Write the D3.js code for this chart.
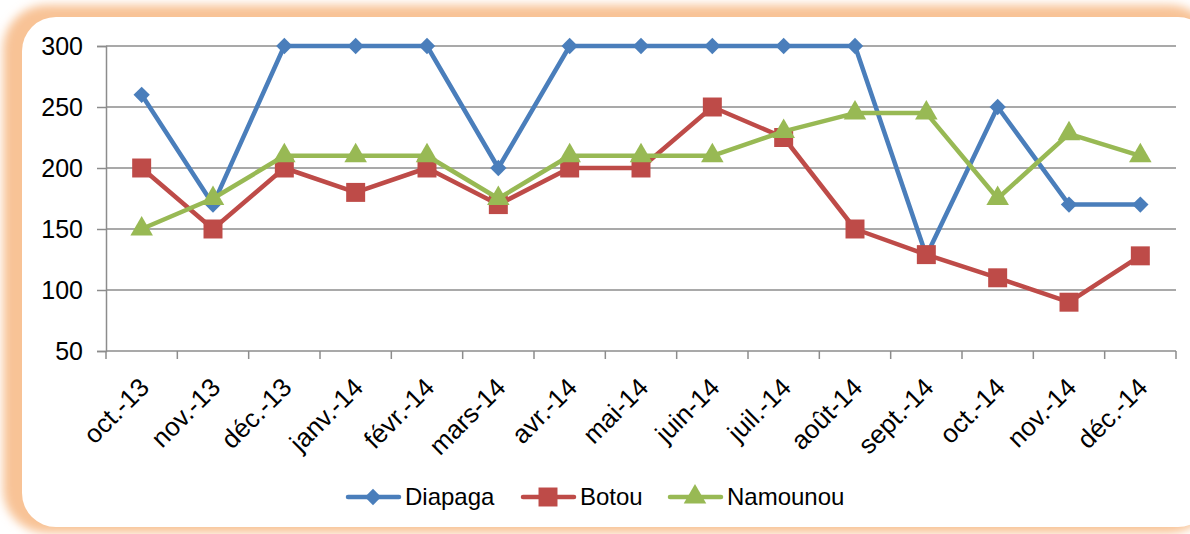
<!DOCTYPE html>
<html>
<head>
<meta charset="utf-8">
<script src="https://cdn.jsdelivr.net/npm/d3@7"></script>
<style>
  body { margin: 0; background: #fff; }
  svg { display: block; font-family: "Liberation Sans", Arial, sans-serif; }
</style>
</head>
<body>
<script>
// categories and values
const months = ['oct.-13', 'nov.-13', 'déc.-13', 'janv.-14', 'févr.-14', 'mars-14', 'avr.-14',
  'mai-14', 'juin-14', 'juil.-14', 'août-14', 'sept.-14', 'oct.-14', 'nov.-14', 'déc.-14'];
const diapaga = [260, 170, 300, 300, 300, 200, 300, 300, 300, 300, 300, 128, 250, 170, 170];
const botou = [200, 150, 200, 180, 200, 170, 200, 200, 250, 225, 150, 129, 110, 90, 128];
const namounou = [150, 175, 210, 210, 210, 175, 210, 210, 210, 230, 245, 245, 175, 228, 210];
const yTicks = [50, 100, 150, 200, 250, 300];

const series = [
  { name: 'Diapaga', values: diapaga, color: '#4a7ebb', symbol: d3.symbolDiamond2, size: 170 },
  { name: 'Botou', values: botou, color: '#be4b48', symbol: d3.symbolSquare, size: 360 },
  { name: 'Namounou', values: namounou, color: '#98b954', symbol: d3.symbolTriangle, size: 220 }
];

const width = 1190, height = 534;
const plot = { left: 106, right: 1176, top: 46, bottom: 351 };

const svg = d3.select('body').append('svg')
  .attr('width', width)
  .attr('height', height);

// orange glowing frame
const defs = svg.append('defs');
const blur = defs.append('filter').attr('id', 'glow')
  .attr('x', '-5%').attr('y', '-10%').attr('width', '110%').attr('height', '120%');
blur.append('feGaussianBlur').attr('stdDeviation', 5);

svg.append('rect')
  .attr('x', 3).attr('y', 5).attr('width', 1210).attr('height', 528)
  .attr('rx', 44)
  .attr('fill', '#f8c396')
  .attr('filter', 'url(#glow)');
svg.append('rect')
  .attr('x', 22).attr('y', 17).attr('width', 1190).attr('height', 510)
  .attr('rx', 34)
  .attr('fill', '#ffffff');

const x = d3.scaleBand().domain(months).range([plot.left, plot.right]);
const y = d3.scaleLinear().domain([50, 300]).range([plot.bottom, plot.top]);

// gridlines
svg.append('g')
  .selectAll('line')
  .data(yTicks.filter(d => d > 50))
  .join('line')
  .attr('x1', plot.left).attr('x2', plot.right)
  .attr('y1', d => y(d)).attr('y2', d => y(d))
  .attr('stroke', '#8c8c8c')
  .attr('stroke-width', 1.5);

// y axis
const yAxis = d3.axisLeft(y).tickValues(yTicks).tickSize(9).tickPadding(14);
const gy = svg.append('g')
  .attr('transform', `translate(${plot.left},0)`)
  .call(yAxis);
gy.attr('font-family', null).attr('font-size', null);
gy.select('.domain').attr('stroke', '#8c8c8c').attr('stroke-width', 1.5);
gy.selectAll('.tick line').attr('stroke', '#8c8c8c').attr('stroke-width', 1.5);
gy.selectAll('.tick text').attr('font-size', 25).attr('fill', '#000');

// x axis
const gx = svg.append('g').attr('transform', `translate(0,${plot.bottom})`);
gx.append('line')
  .attr('x1', plot.left).attr('x2', plot.right)
  .attr('stroke', '#8c8c8c').attr('stroke-width', 1.5);
gx.selectAll('.xtick')
  .data(months.concat(['end']))
  .join('line')
  .attr('class', 'xtick')
  .attr('x1', (d, i) => i < months.length ? x(d) : x.range()[1])
  .attr('x2', (d, i) => i < months.length ? x(d) : x.range()[1])
  .attr('y1', 0).attr('y2', 8)
  .attr('stroke', '#8c8c8c').attr('stroke-width', 1.5);
gx.selectAll('text')
  .data(months)
  .join('text')
  .attr('transform', d => `translate(${x(d) + x.bandwidth() / 2 + 9},${38}) rotate(-45)`)
  .attr('text-anchor', 'end')
  .attr('font-size', 26)
  .attr('fill', '#000')
  .text(d => d);

// lines and markers
const cx = d => x(d) + x.bandwidth() / 2;
series.forEach(s => {
  const pts = months.map((m, i) => [cx(m), y(s.values[i])]);
  svg.append('path')
    .attr('d', d3.line()(pts))
    .attr('fill', 'none')
    .attr('stroke', s.color)
    .attr('stroke-width', 4.5)
    .attr('stroke-linejoin', 'round');
  svg.append('g')
    .selectAll('path')
    .data(pts)
    .join('path')
    .attr('transform', d => `translate(${d[0]},${d[1]})`)
    .attr('d', d3.symbol().type(s.symbol).size(s.size))
    .attr('fill', s.color);
});

// legend
const legendX = [348, 523, 670];
const legendY = 497;
const legend = svg.append('g');
series.forEach((s, i) => {
  const g = legend.append('g').attr('transform', `translate(${legendX[i]},${legendY})`);
  g.append('line')
    .attr('x1', 0).attr('x2', 51)
    .attr('stroke', s.color).attr('stroke-width', 4.5).attr('stroke-linecap', 'round');
  g.append('path')
    .attr('transform', 'translate(25,0)')
    .attr('d', d3.symbol().type(s.symbol).size(s.size))
    .attr('fill', s.color);
  g.append('text')
    .attr('x', 57).attr('dy', '0.35em')
    .attr('font-size', 24)
    .attr('fill', '#000')
    .text(s.name);
});
</script>
</body>
</html>
